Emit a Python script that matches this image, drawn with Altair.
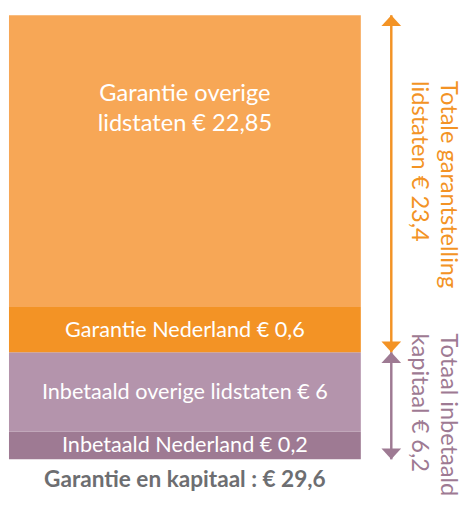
import altair as alt
import numpy as np
import pandas as pd

# Segments from bottom to top
segments = ["Inbetaald Nederland", "Inbetaald overige lidstaten", "Garantie Nederland", "Garantie overige lidstaten"]
values = [0.2, 6.0, 0.6, 22.85]
seg_labels = ["Inbetaald Nederland € 0,2", "Inbetaald overige lidstaten € 6",
              "Garantie Nederland € 0,6", "Garantie overige\nlidstaten € 22,85"]
seg_colors = ["#9E7A93", "#B494AC", "#F39325", "#F7A756"]

# Bracket groups (bottom to top)
groups = ["Totaal inbetaald kapitaal", "Totale garantstelling lidstaten"]
group_values = [6.2, 23.4]
group_labels = ["Totaal inbetaald\nkapitaal € 6,2", "Totale garantstelling\nlidstaten € 23,4"]
group_colors = ["#9E7A93", "#F39325"]

total_label = "Garantie en kapitaal : € 29,6"

FONT = "Lato"

ends = np.cumsum(values)
starts = ends - np.array(values)
df = pd.DataFrame({
    "segment": segments,
    "start": starts,
    "end": ends,
    "mid": (starts + ends) / 2,
    "label": seg_labels,
    "color": seg_colors,
})

# non-uniform (piecewise) scale, as in the infographic
bounds = [0.0] + list(ends)
yscale = alt.Scale(domain=bounds, range=[455, 427, 346, 300, 3], zero=False, nice=False)

bars = alt.Chart(df).mark_bar(stroke=None).encode(
    x=alt.value(1), x2=alt.value(359),
    y=alt.Y("start:Q", scale=yscale, axis=None),
    y2="end:Q",
    color=alt.Color("color:N", scale=None),
)

small = df.iloc[:3]
big = df.iloc[3:]
seg_text_small = alt.Chart(small).mark_text(
    color="white", font=FONT, fontSize=22, baseline="middle", align="center"
).encode(x=alt.value(180), y=alt.Y("mid:Q", scale=yscale), text="label:N")

seg_text_big = alt.Chart(big).mark_text(
    color="white", font=FONT, fontSize=24, baseline="middle", align="center",
    lineBreak="\n", lineHeight=30, dy=-68
).encode(x=alt.value(180), y=alt.Y("mid:Q", scale=yscale), text="label:N")

# bracket arrows
g_start = np.array([0.0, ends[1]])
g_end = np.array([ends[1], ends[-1]])
gdf = pd.DataFrame({
    "group": groups,
    "start": g_start,
    "end": g_end,
    "label": group_labels,
    "color": group_colors,
})

rules = alt.Chart(gdf).mark_rule(strokeWidth=2.5).encode(
    x=alt.value(390),
    y=alt.Y("start:Q", scale=yscale),
    y2="end:Q",
    color=alt.Color("color:N", scale=None),
)
up_heads = alt.Chart(gdf).mark_point(
    shape="M0,0L1,1.1L-1,1.1Z", size=400, filled=True, opacity=1
).encode(x=alt.value(390), y=alt.Y("end:Q", scale=yscale),
         color=alt.Color("color:N", scale=None))
down_heads = alt.Chart(gdf).mark_point(
    shape="M0,0L1,-1.1L-1,-1.1Z", size=400, filled=True, opacity=1
).encode(x=alt.value(390), y=alt.Y("start:Q", scale=yscale),
         color=alt.Color("color:N", scale=None))

text_props = dict(font=FONT, fontSize=24, angle=90, align="left", baseline="top",
                  lineBreak="\n", lineHeight=30)
group_text_top = alt.Chart(gdf.iloc[1:]).mark_text(yOffset=67, **text_props).encode(
    x=alt.value(460), y=alt.Y("end:Q", scale=yscale), text="label:N",
    color=alt.Color("color:N", scale=None))
group_text_bottom = alt.Chart(gdf.iloc[:1]).mark_text(yOffset=-19, **text_props).encode(
    x=alt.value(460), y=alt.Y("end:Q", scale=yscale), text="label:N",
    color=alt.Color("color:N", scale=None))

tdf = pd.DataFrame({"label": [total_label], "y": [0.0]})
total_text = alt.Chart(tdf).mark_text(
    font=FONT, fontSize=23, fontWeight="bold", color="#6D6E71",
    baseline="alphabetic", align="center", yOffset=28
).encode(x=alt.value(180), y=alt.Y("y:Q", scale=yscale), text="label:N")

chart = alt.layer(
    bars, seg_text_small, seg_text_big, rules, up_heads, down_heads,
    group_text_top, group_text_bottom, total_text
).properties(
    width=465, height=488, padding=0, autosize="none"
).configure_view(stroke=None)

chart.save("out.html", embed_options={"renderer": "svg", "actions": False})
